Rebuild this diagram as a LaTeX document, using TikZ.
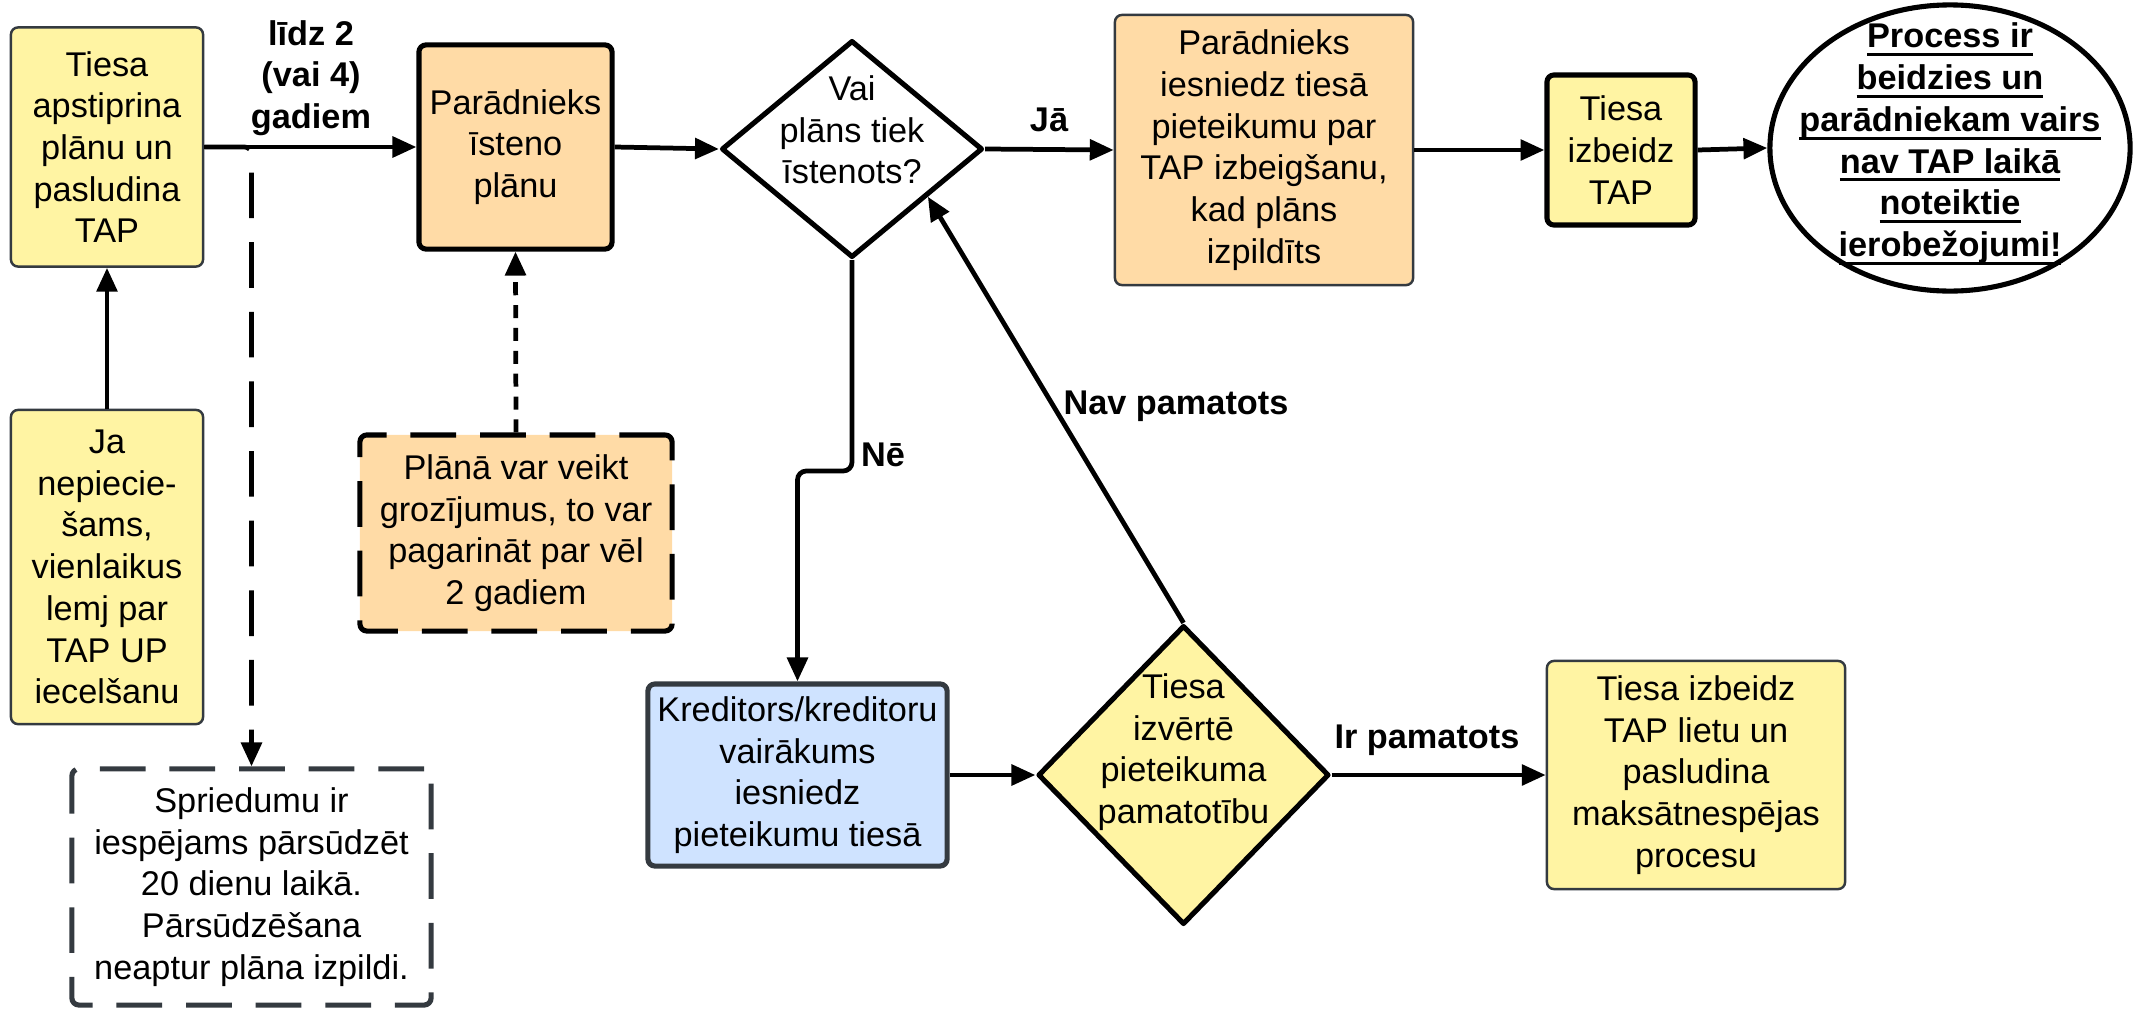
\documentclass[tikz,border=0pt]{standalone}
\usepackage{fontspec}
\setmainfont{Liberation Sans}
\usetikzlibrary{shapes.geometric,arrows.meta,calc}
\definecolor{yel}{HTML}{FFF4A3}
\definecolor{ora}{HTML}{FFDBA6}
\definecolor{blu}{HTML}{CFE3FF}
\definecolor{bord}{HTML}{343A40}
\newsavebox\ulbox
\newcommand\ulx[1]{\sbox\ulbox{#1}\rlap{\rule[-2.4pt]{\wd\ulbox}{0.9pt}}\usebox\ulbox}
\begin{document}
\begin{tikzpicture}[x=0.01cm,y=-0.01cm,
  font=\fontsize{9.75pt}{11.86pt}\selectfont,
  box/.style={rectangle, align=center, inner sep=1pt, rounded corners=2pt},
  thinb/.style={draw=bord, line width=0.7pt},
  thickb/.style={draw=black, line width=1.45pt},
  longdash/.style={dash pattern=on 13pt off 6.8pt},
  arr/.style={line width=1.35pt, -{Triangle[length=6.8pt,width=5.8pt]}},
  lbl/.style={font=\fontsize{9.75pt}{11.86pt}\selectfont\bfseries, align=center, inner sep=0pt},
  txt/.style={align=center, inner sep=0pt}]
\useasboundingbox (0,0) rectangle (2134,1009);

% boxes
\node[box,thinb,fill=yel,minimum width=1.92cm,minimum height=2.39cm] (b1) at (107,147)
  {Tiesa\\apstiprina\\plānu un\\pasludina\\TAP};
\node[box,thinb,fill=yel,minimum width=1.92cm,minimum height=3.14cm] (bja) at (107,567)
  {Ja\\nepiecie-\\šams,\\vienlaikus\\lemj par\\TAP UP\\iecelšanu};
\node[box,thickb,fill=ora,minimum width=1.93cm,minimum height=2.04cm] (b2) at (515.5,147)
  {Parādnieks\\īsteno\\plānu};
\node[box,thickb,longdash,fill=ora,minimum width=3.12cm,minimum height=1.96cm] (pl) at (516,533)
  {Plānā var veikt\\grozījumus, to var\\pagarināt par vēl\\2 gadiem};
\node[box,draw=bord,line width=1.45pt,longdash,fill=white,minimum width=3.59cm,minimum height=2.36cm] (sp) at (251.5,887)
  {Spriedumu ir\\iespējams pārsūdzēt\\20 dienu laikā.\\Pārsūdzēšana\\neaptur plāna izpildi.};
\node[diamond,thickb,line join=round,fill=white,minimum width=2.61cm,minimum height=2.17cm,inner sep=0pt] (d1) at (852,149) {};
\node[txt] (d1t) at (852,130) {Vai\\plāns tiek\\īstenots?};
\node[box,thinb,fill=ora,minimum width=2.98cm,minimum height=2.70cm] (b3) at (1264,150)
  {Parādnieks\\iesniedz tiesā\\pieteikumu par\\TAP izbeigšanu,\\kad plāns\\izpildīts};
\node[box,thickb,fill=yel,minimum width=1.48cm,minimum height=1.50cm] (b4) at (1621,150)
  {Tiesa\\izbeidz\\TAP};
\node[ellipse,thickb,fill=white,minimum width=3.60cm,minimum height=2.86cm,inner sep=0pt] (ell) at (1950,148) {};
\node[lbl] (ellt) at (1950,144)
  {\ulx{Process ir}\\\ulx{beidzies un}\\\ulx{parādniekam vairs}\\\ulx{nav TAP laikā}\\\ulx{noteiktie}\\\ulx{ierobežojumi!}};
\node[box,draw=bord,line width=1.45pt,fill=blu,minimum width=2.99cm,minimum height=1.82cm] (b5) at (797.5,775)
  {Kreditors/kreditoru\\vairākums\\iesniedz\\pieteikumu tiesā};
\node[diamond,thickb,line join=round,fill=yel,minimum width=2.91cm,minimum height=2.99cm,inner sep=0pt] (d2) at (1183.5,775) {};
\node[txt] (d2t) at (1183.5,752) {Tiesa\\izvērtē\\pieteikuma\\pamatotību};
\node[box,thinb,fill=yel,minimum width=2.98cm,minimum height=2.28cm] (b6) at (1696,775)
  {Tiesa izbeidz\\TAP lietu un\\pasludina\\maksātnespējas\\procesu};

% labels
\node[lbl] (l1) at (311,78) {līdz 2\\(vai 4)\\gadiem};
\node[lbl] (lja) at (1049,120) {Jā};
\node[lbl] (lne) at (883,455) {Nē};
\node[lbl] (lnav) at (1176,406) {Nav pamatots};
\node[lbl] (lir) at (1427,740) {Ir pamatots};

% connectors
\draw[arr,longdash,rounded corners=2pt] (b1.east) -| (sp.north);
\draw[arr] (b1.east) -- (b2.west);
\draw[arr] (bja.north) -- (b1.south);
\draw[arr,dash pattern=on 3.7pt off 2.8pt] (pl.north) -- (b2.south);
\draw[arr] (b2.east) -- (d1.west);
\draw[arr] (d1.east) -- (b3.west);
\draw[arr] (b3.east) -- (b4.west);
\draw[arr] (b4.east) -- (ell.west);
\coordinate (nebend) at (852,471);
\draw[arr,rounded corners=2.5pt] (d1.south) -- (nebend) -| (b5.north);
\draw[arr] (b5.east) -- (d2.west);
\draw[arr] (d2.east) -- (b6.west);
\coordinate (d1se) at ($(d1.east)!0.43!(d1.south)$);
\draw[arr] (d2.north) -- (d1se);
\end{tikzpicture}
\end{document}
